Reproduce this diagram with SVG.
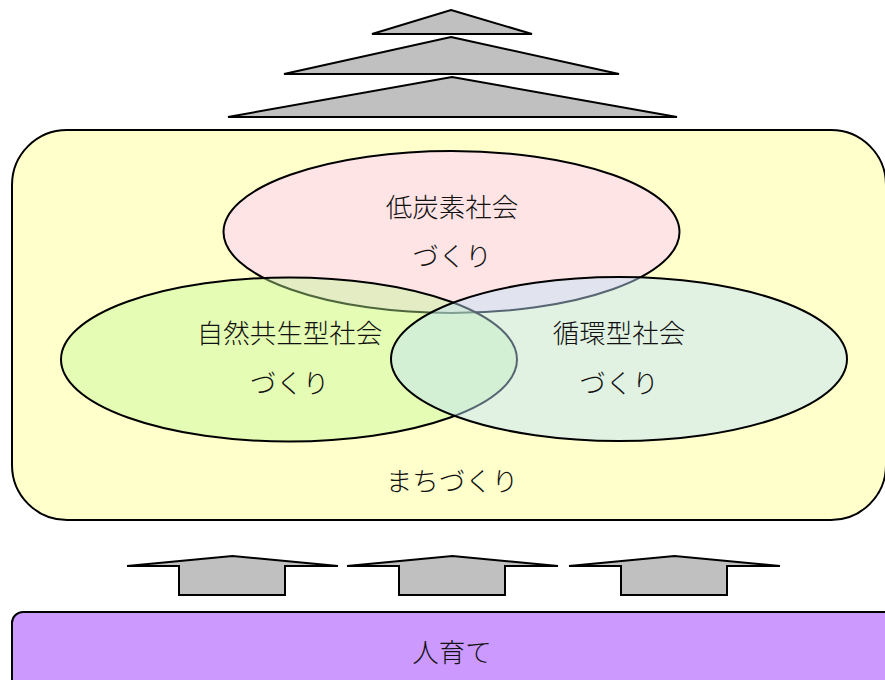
<svg xmlns="http://www.w3.org/2000/svg" width="885" height="680" viewBox="0 0 885 680">
<style>
.lbl{font-family:"Noto Sans CJK JP","Noto Sans CJK SC",sans-serif;font-size:26.5px;font-weight:300;fill:#111;text-anchor:middle}
.arr{fill:#c0c0c0;stroke:#000;stroke-width:2;stroke-linejoin:miter}
.ell{stroke:#000;stroke-width:2}
</style>
<rect width="885" height="680" fill="#fff"/>
<g id="top-arrows">
<polygon class="arr" points="451,10 532,34 372,34"/>
<polygon class="arr" points="451,37 619,74 284,74"/>
<polygon class="arr" points="452,77 677,117 228,117"/>
</g>
<g id="machizukuri">
<rect x="12" y="130" width="874" height="390" rx="55" ry="55" fill="#ffffcc" stroke="#000" stroke-width="2"/>
<text class="lbl" x="452" y="491">まちづくり</text>
</g>
<g id="low-carbon">
<ellipse class="ell" cx="451.5" cy="232" rx="228" ry="81" fill="#fee4e4"/>
</g>
<g id="nature">
<ellipse class="ell" cx="289" cy="359.5" rx="228" ry="82" fill="#bdf791" fill-opacity="0.41"/>
</g>
<g id="recycle">
<ellipse class="ell" cx="619" cy="359" rx="228" ry="82" fill="#bee2fd" fill-opacity="0.45"/>
</g>
<g id="labels">
<text class="lbl" x="452" y="217">低炭素社会</text>
<text class="lbl" x="452" y="266">づくり</text>
<text class="lbl" x="289.5" y="343">自然共生型社会</text>
<text class="lbl" x="289.5" y="393">づくり</text>
<text class="lbl" x="619" y="343">循環型社会</text>
<text class="lbl" x="619" y="393">づくり</text>
</g>
<g id="connectors">
<polygon class="arr" points="127,566 232.5,556 338,566 285,566 285,595 179,595 179,566"/>
<polygon class="arr" points="347,566 452.5,556 558,566 505,566 505,595 399,595 399,566"/>
<polygon class="arr" points="569,566 674.5,556 780,566 727,566 727,595 621,595 621,566"/>
</g>
<g id="hitozukuri">
<rect x="12" y="612" width="890" height="90" rx="11" ry="11" fill="#cc99ff" stroke="#000" stroke-width="2"/>
<text class="lbl" x="452" y="662">人育て</text>
</g>
</svg>
